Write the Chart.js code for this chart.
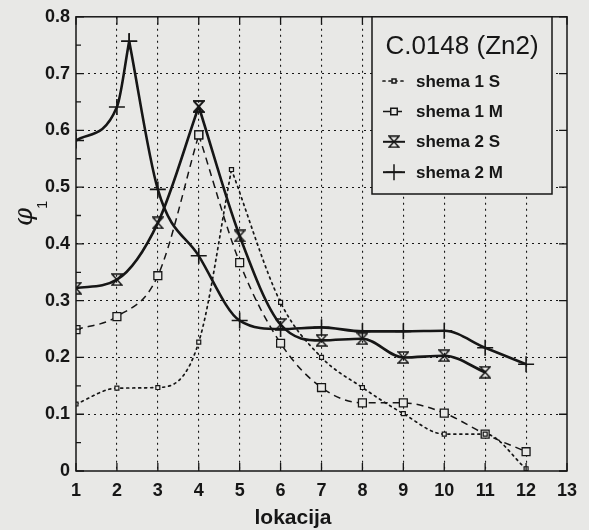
<!DOCTYPE html>
<html><head><meta charset="utf-8">
<script src="https://cdn.jsdelivr.net/npm/chart.js@4/dist/chart.umd.min.js"></script>
<style>
html,body{margin:0;padding:0;background:#e8e8e6;}
#wrap{width:589px;height:530px;position:relative;}
</style></head><body>
<div id="wrap"><canvas id="c" width="589" height="530"></canvas></div>
<script>
// ---- data ----
const xTicks = [1,2,3,4,5,6,7,8,9,10,11,12,13];
const yTicks = [0,0.1,0.2,0.3,0.4,0.5,0.6,0.7,0.8];
const legendTitle = 'C.0148 (Zn2)';
const xTitle = 'lokacija';
const seriesNames = ['shema 1 S','shema 1 M','shema 2 S','shema 2 M'];
const s1S_x = [1,2,3,4,4.8,6,7,8,9,10,11,12];
const s1S_y = [0.118,0.146,0.147,0.227,0.531,0.297,0.200,0.147,0.101,0.065,0.065,0.004];
const s1M_x = [1,2,3,4,5,6,7,8,9,10,11,12];
const s1M_y = [0.249,0.272,0.344,0.592,0.367,0.225,0.147,0.120,0.120,0.102,0.065,0.034];
const s2S_x = [1,2,3,4,5,6,7,8,9,10,11];
const s2S_y = [0.322,0.337,0.437,0.642,0.414,0.258,0.230,0.233,0.200,0.203,0.174];
const s2M_x = [1,2,2.3,3,4,5,6,7,8,9,10,11,12];
const s2M_y = [0.582,0.641,0.757,0.496,0.379,0.265,0.250,0.253,0.246,0.246,0.247,0.217,0.188];

// ---- styles ----
const BG = '#e8e8e6', INK = '#161616';
const hour = document.createElement('canvas');
hour.width = 12; hour.height = 13;
(function(){ const g = hour.getContext('2d'); g.strokeStyle = INK; g.lineWidth = 1.5;
  g.beginPath(); g.moveTo(1,1); g.lineTo(11,1); g.lineTo(1,12); g.lineTo(11,12); g.closePath(); g.stroke(); })();
const styles = [
  {dash:[2,4], width:1.7, cap:'round', point:'rect', radius:2.8, pbw:1.2},
  {dash:[7,5], width:1.5, cap:'butt', point:'rect', radius:5.6, pbw:1.3},
  {dash:[], width:2.6, cap:'butt', point:hour, radius:6, pbw:1},
  {dash:[], width:2.6, cap:'butt', point:'cross', radius:8, pbw:1.6}
];
function pts(xs, ys, a, b){ const out=[]; for(let i=a;i<=b;i++) out.push({x:xs[i], y:ys[i]}); return out; }
const series = [[s1S_x,s1S_y],[s1M_x,s1M_y],[s2S_x,s2S_y],[s2M_x,s2M_y]];
const datasets = [];
series.forEach(([xs,ys],i)=>{
  const p = ys.indexOf(Math.max(...ys));
  const st = styles[i];
  [[0,p],[p,ys.length-1]].forEach(([a,b])=>{
    datasets.push({label:seriesNames[i], data:pts(xs,ys,a,b), borderColor:INK, backgroundColor:BG,
      borderWidth:st.width, borderDash:st.dash, borderCapStyle:st.cap, pointStyle:st.point,
      pointRadius:st.radius, pointBorderWidth:st.pbw, pointBackgroundColor:BG, pointBorderColor:INK,
      cubicInterpolationMode:'monotone', fill:false});
  });
});

const deco = { id:'deco', afterDraw(chart){
  const {ctx, chartArea:a, scales:{x,y}} = chart;
  ctx.save();
  ctx.setLineDash([]); ctx.strokeStyle = INK; ctx.fillStyle = INK;
  ctx.lineWidth = 1.5;
  ctx.strokeRect(a.left, a.top, a.right-a.left, a.bottom-a.top);
  ctx.lineWidth = 1.3; ctx.beginPath();
  xTicks.forEach(v=>{ const px=x.getPixelForValue(v);
    ctx.moveTo(px,a.bottom); ctx.lineTo(px,a.bottom-8); ctx.moveTo(px,a.top); ctx.lineTo(px,a.top+8); });
  yTicks.forEach(v=>{ const py=y.getPixelForValue(v);
    ctx.moveTo(a.left,py); ctx.lineTo(a.left+8,py); ctx.moveTo(a.right,py); ctx.lineTo(a.right-8,py); });
  for(let i=0;i<yTicks.length-1;i++){ const py=y.getPixelForValue((yTicks[i]+yTicks[i+1])/2);
    ctx.moveTo(a.left,py); ctx.lineTo(a.left+5,py); }
  ctx.stroke();

  // legend box
  const L=372, T=a.top, R=552, B=194;
  ctx.fillStyle = BG; ctx.fillRect(L,T,R-L,B-T);
  ctx.lineWidth = 1.5; ctx.strokeStyle = INK; ctx.strokeRect(L,T,R-L,B-T);
  ctx.fillStyle = INK;
  ctx.font = '26px "Liberation Sans"'; ctx.textAlign='center'; ctx.textBaseline='middle';
  ctx.fillText(legendTitle, 462, 47);
  ctx.font = 'bold 17px "Liberation Sans"'; ctx.textAlign='left';
  seriesNames.forEach((name,i)=>{
    const st = styles[i], yy = 81 + i*30.4;
    ctx.save(); ctx.lineWidth = Math.min(st.width,2); ctx.setLineDash(st.dash); ctx.lineCap = st.cap;
    ctx.beginPath(); ctx.moveTo(383,yy); ctx.lineTo(405,yy); ctx.stroke(); ctx.restore();
    ctx.save(); ctx.strokeStyle=INK; ctx.fillStyle=BG;
    Chart.helpers.drawPoint(ctx, {pointStyle:st.point, radius: i===1?4.6:st.radius, borderWidth:st.pbw, rotation:0}, 394, yy);
    ctx.restore();
    ctx.fillStyle = INK; ctx.fillText(name, 416, yy+1);
  });

  // axis titles
  ctx.font = 'bold 21px "Liberation Sans"'; ctx.textAlign='center'; ctx.textBaseline='alphabetic';
  ctx.fillText(xTitle, 293, 524);
  ctx.save(); ctx.translate(32,226); ctx.rotate(-Math.PI/2);
  ctx.textAlign='left'; ctx.font = 'italic 26px "DejaVu Serif"'; ctx.fillText('φ',0,0);
  ctx.font = '15px "Liberation Sans"'; ctx.fillText('1',17,15);
  ctx.restore();
  ctx.restore();
}};

const gridColor = c => (c.tick && (c.tick.value===c.scale.min || c.tick.value===c.scale.max)) ? 'rgba(0,0,0,0)' : INK;
const tickFont = {family:'Liberation Sans', weight:'bold', size:18};
new Chart(document.getElementById('c'), {
  type:'line',
  data:{datasets},
  options:{
    responsive:false, animation:false, devicePixelRatio:1,
    layout:{padding:{top:15,right:22,left:0,bottom:0}},
    plugins:{legend:{display:false}, tooltip:{enabled:false}},
    scales:{
      x:{type:'linear', min:1, max:13,
        afterBuildTicks:s=>{ s.ticks = xTicks.map(v=>({value:v})); },
        afterFit:s=>{ s.height = 59; },
        grid:{color:gridColor, lineWidth:1.1, drawTicks:false},
        border:{display:false, dash:[2,4]},
        ticks:{color:INK, font:tickFont, padding:9, maxRotation:0, autoSkip:false, callback:v=>String(v)}},
      y:{min:0, max:0.8,
        afterBuildTicks:s=>{ s.ticks = yTicks.map(v=>({value:v})); },
        afterFit:s=>{ s.width = 76; },
        grid:{color:gridColor, lineWidth:1.1, drawTicks:false},
        border:{display:false, dash:[2,4]},
        ticks:{color:INK, font:tickFont, padding:6, autoSkip:false, callback:v=>String(v)}}
    }
  },
  plugins:[deco]
});
</script>
</body></html>
